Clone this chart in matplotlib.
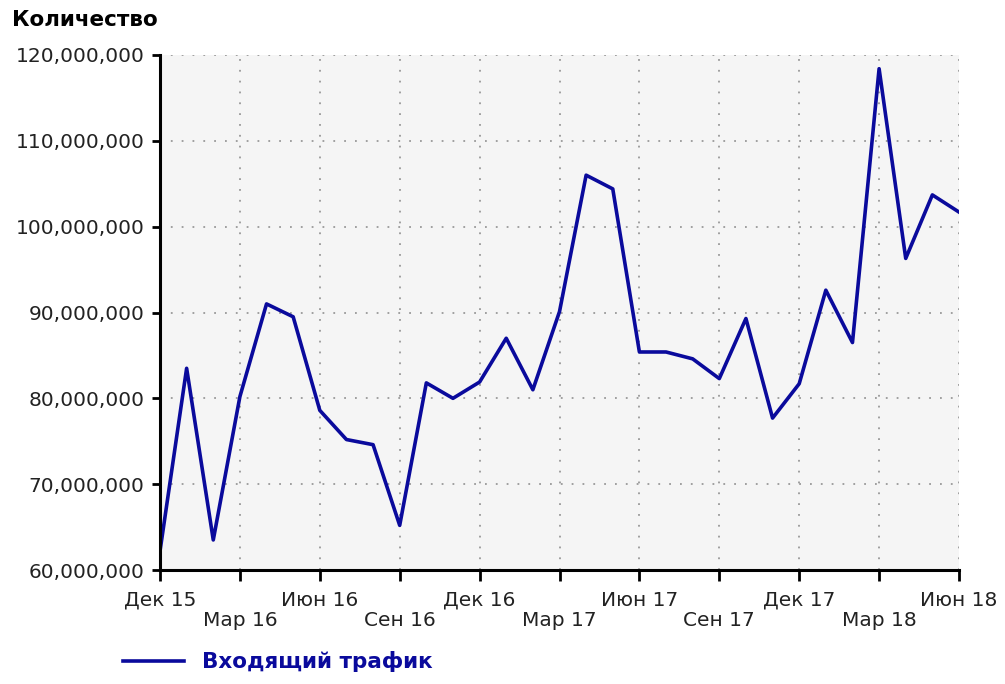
import matplotlib
matplotlib.use("Agg")
import matplotlib.pyplot as plt
import matplotlib.ticker as mticker

# =========================
# Data (monthly, Dec 2015 .. Jun 2018)
# =========================

months = list(range(31))
traffic = [
    62.2, 83.5, 63.5, 80.2, 91.0, 89.5, 78.6, 75.2, 74.6, 65.2,
    81.8, 80.0, 81.9, 87.0, 81.0, 90.1, 106.0, 104.4, 85.4, 85.4,
    84.6, 82.3, 89.3, 77.7, 81.7, 92.6, 86.5, 118.4, 96.3, 103.7,
    101.7,
]
traffic = [v * 1e6 for v in traffic]

tick_pos = [0, 3, 6, 9, 12, 15, 18, 21, 24, 27, 30]
tick_labels = ["Дек 15", "Мар 16", "Июн 16", "Сен 16", "Дек 16", "Мар 17",
               "Июн 17", "Сен 17", "Дек 17", "Мар 18", "Июн 18"]

series_name = "Входящий трафик"
y_title = "Количество"

LINE_COLOR = "#0a0a9c"

# =========================
# Plot
# =========================

plt.rcParams["font.family"] = ["DejaVu Sans"]

fig = plt.figure(figsize=(10.05, 6.84), dpi=100)
ax = fig.add_axes([160 / 1005, 1 - 570 / 684, 799 / 1005, 515 / 684])
ax.set_facecolor("#f5f5f5")

ax.plot(months, traffic, color=LINE_COLOR, linewidth=2.6, label=series_name)

ax.set_xlim(0, 30)
ax.set_ylim(60e6, 120e6)
ax.yaxis.set_major_locator(mticker.MultipleLocator(10e6))
ax.yaxis.set_major_formatter(mticker.FuncFormatter(lambda v, p: f"{v:,.0f}"))

# staggered month labels
ax.set_xticks(tick_pos)
ax.set_xticklabels([lab if i % 2 == 0 else "\n" + lab
                    for i, lab in enumerate(tick_labels)], linespacing=1.1)

ax.grid(True, color="#999999", linestyle=(0, (1, 5)), linewidth=1.3)
ax.set_axisbelow(True)

for side in ["top", "right"]:
    ax.spines[side].set_visible(False)
for side in ["left", "bottom"]:
    ax.spines[side].set_linewidth(2.2)
    ax.spines[side].set_color("black")

ax.tick_params(axis="y", length=6, width=2, pad=5, labelsize=14.5, labelcolor="#222222")
ax.tick_params(axis="x", length=8, width=2, pad=7, labelsize=14.5, labelcolor="#222222")

fig.text(12 / 1005, 1 - 20 / 684, y_title, fontsize=15.5, fontweight="bold",
         ha="left", va="center")

leg = ax.legend(loc="center left", bbox_to_anchor=(104 / 1005, 1 - 662 / 684),
                bbox_transform=fig.transFigure, frameon=False,
                handlelength=2.8, handletextpad=0.85, fontsize=15.5)
for t in leg.get_texts():
    t.set_color(LINE_COLOR)
    t.set_fontweight("bold")

fig.savefig("out.png", dpi=100)
